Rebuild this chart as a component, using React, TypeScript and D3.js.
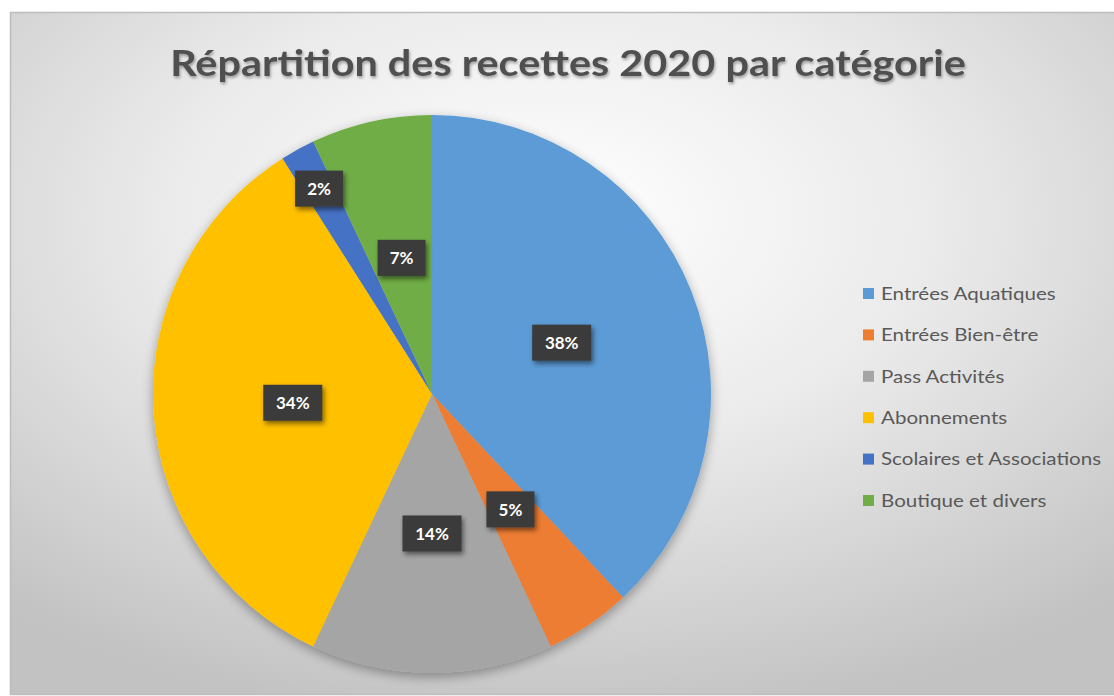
import React from "react";
import * as d3 from "d3";

const categories = [
  "Entrées Aquatiques",
  "Entrées Bien-être",
  "Pass Activités",
  "Abonnements",
  "Scolaires et Associations",
  "Boutique et divers",
];
const values = [38, 5, 14, 34, 2, 7];
const colors = ["#5B9BD5", "#ED7D31", "#A5A5A5", "#FFC000", "#4472C4", "#70AD47"];
const title = "Répartition des recettes 2020 par catégorie";

const W = 1114;
const H = 696;

export default function App() {
  const cx = 432;
  const cy = 394;
  const r = 279;
  const total = d3.sum(values);
  const pie = d3.pie<number>().sort(null).value((d) => d)(values);
  const arc = d3.arc<d3.PieArcDatum<number>>().innerRadius(0).outerRadius(r);
  const fmt = (v: number) => `${Math.round((v / total) * 100)}%`;

  const legendY = d3.scalePoint<number>().domain(d3.range(categories.length)).range([293, 500]);

  return (
    <svg
      width={W}
      height={H}
      style={{ position: "absolute", left: 0, top: 0 }}
      xmlns="http://www.w3.org/2000/svg"
    >
      <defs>
        <radialGradient id="bg" cx="48%" cy="30%" r="75%">
          <stop offset="0%" stopColor="#ffffff" />
          <stop offset="45%" stopColor="#ebebeb" />
          <stop offset="100%" stopColor="#c2c2c2" />
        </radialGradient>
        <filter id="pieShadow" x="-20%" y="-20%" width="140%" height="140%">
          <feGaussianBlur in="SourceAlpha" stdDeviation="6" />
          <feOffset dx="0" dy="4" result="b" />
          <feComponentTransfer>
            <feFuncA type="linear" slope="0.35" />
          </feComponentTransfer>
          <feMerge>
            <feMergeNode />
            <feMergeNode in="SourceGraphic" />
          </feMerge>
        </filter>
        <filter id="lblShadow" x="-30%" y="-30%" width="160%" height="160%">
          <feGaussianBlur in="SourceAlpha" stdDeviation="2.5" />
          <feOffset dx="2" dy="3" />
          <feComponentTransfer>
            <feFuncA type="linear" slope="0.5" />
          </feComponentTransfer>
          <feMerge>
            <feMergeNode />
            <feMergeNode in="SourceGraphic" />
          </feMerge>
        </filter>
        <filter id="txtShadow" x="-10%" y="-30%" width="120%" height="160%">
          <feGaussianBlur in="SourceAlpha" stdDeviation="1.5" />
          <feOffset dx="1" dy="2" />
          <feComponentTransfer>
            <feFuncA type="linear" slope="0.35" />
          </feComponentTransfer>
          <feMerge>
            <feMergeNode />
            <feMergeNode in="SourceGraphic" />
          </feMerge>
        </filter>
      </defs>
      <rect x={0} y={0} width={W} height={H} fill="#ffffff" />
      <rect x={10.5} y={12.5} width={W + 10} height={H - 14} fill="url(#bg)" stroke="#bdbdbd" strokeWidth={1.5} />

      <g transform="translate(568,62) scale(1.15,1)">
        <text
          x={0}
          y={0}
          textAnchor="middle"
          dominantBaseline="central"
          fontFamily="Lato, 'Open Sans', sans-serif"
          fontWeight={700}
          fontSize={36}
          fill="#4f4f4f"
          filter="url(#txtShadow)"
        >
          {title}
        </text>
      </g>

      <g transform={`translate(${cx},${cy})`}>
        <g filter="url(#pieShadow)">
          {pie.map((p, i) => (
            <path key={i} d={arc(p) || ""} fill={colors[i]} />
          ))}
        </g>
        {pie.map((p, i) => {
          const share = p.value / total;
          const k = share < 0.03 ? 0.84 : 0.5;
          const mid = (p.startAngle + p.endAngle) / 2;
          const lx = Math.sin(mid) * r * k;
          const ly = -Math.cos(mid) * r * k;
          const label = fmt(p.value);
          const bw = label.length * 11 + 26;
          const bh = 36;
          return (
            <g key={"l" + i} transform={`translate(${lx},${ly})`}>
              <rect
                x={-bw / 2}
                y={-bh / 2}
                width={bw}
                height={bh}
                fill="#3a3a3a"
                filter="url(#lblShadow)"
              />
              <text
                textAnchor="middle"
                dominantBaseline="central"
                fontFamily="Lato, 'Open Sans', sans-serif"
                fontWeight={700}
                fontSize={17}
                fill="#ffffff"
              >
                {label}
              </text>
            </g>
          );
        })}
      </g>

      <g>
        {categories.map((c, i) => (
          <g key={c} transform={`translate(863,${legendY(i)})`}>
            <rect x={0} y={-5} width={11} height={11} fill={colors[i]} />
            <g transform="translate(18,0) scale(1.21,1)">
              <text
                x={0}
                y={0}
                dominantBaseline="central"
                fontFamily="Lato, 'Open Sans', sans-serif"
                fontSize={17}
                fill="#595959"
              >
                {c}
              </text>
            </g>
          </g>
        ))}
      </g>
    </svg>
  );
}
